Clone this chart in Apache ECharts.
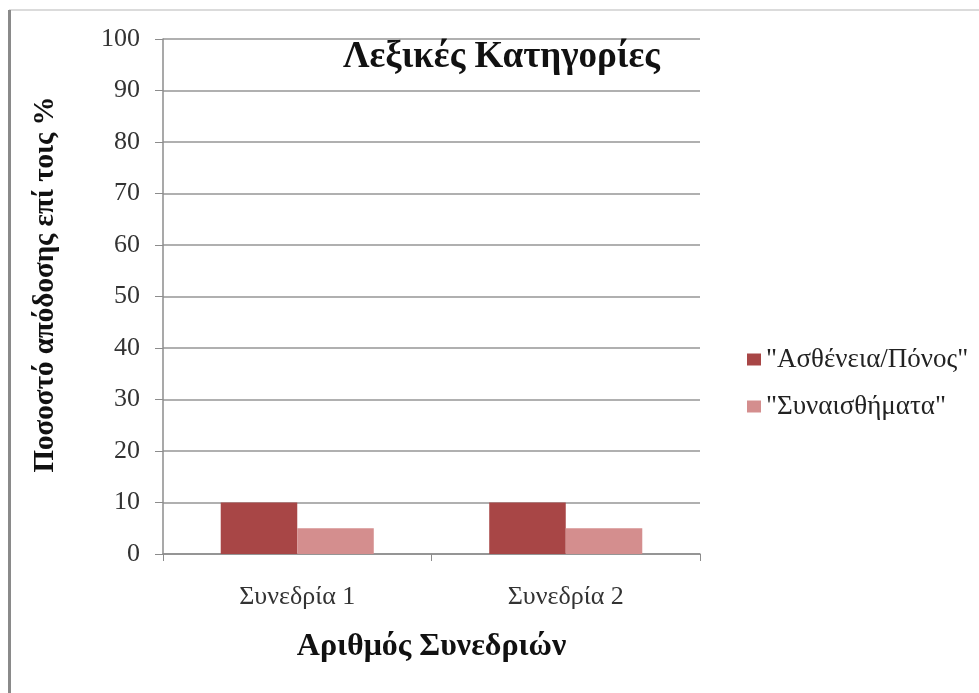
<!DOCTYPE html>
<html><head><meta charset="utf-8">
<script src="https://cdn.jsdelivr.net/npm/echarts@6/dist/echarts.min.js"></script>
<style>html,body{margin:0;padding:0;background:#fff}#c{width:979px;height:693px}</style>
</head><body><div id="c"></div>
<script>
var categories = ['Συνεδρία 1', 'Συνεδρία 2'];
var seriesNames = ['"Ασθένεια/Πόνος"', '"Συναισθήματα"'];
var illnessPain = [10, 10];
var emotions = [5, 5];
var yTicks = { min: 0, max: 100, interval: 10 };

var FONT = '"Liberation Serif", "DejaVu Serif", serif';
var chart = echarts.init(document.getElementById('c'));
chart.setOption({
  backgroundColor: '#fff',
  animation: false,
  textStyle: { fontFamily: FONT },
  title: {
    text: 'Λεξικές Κατηγορίες', left: 338, top: 34,
    textStyle: { fontFamily: FONT, fontSize: 37, fontWeight: 'bold', color: '#111' }
  },
  graphic: [
    { type: 'line', shape: { x1: 9, y1: 10, x2: 979, y2: 10 }, style: { stroke: '#cfcfcf', lineWidth: 1.5 } },
    { type: 'line', shape: { x1: 9.5, y1: 10, x2: 9.5, y2: 693 }, style: { stroke: '#8a8a8a', lineWidth: 3 } }
  ],
  legend: {
    orient: 'vertical', left: 742, top: 341,
    itemWidth: 14, itemHeight: 12, itemGap: 20,
    icon: 'rect',
    textStyle: { fontFamily: FONT, fontSize: 27, color: '#222' },
    data: seriesNames
  },
  grid: { left: 163, right: 279, top: 39, bottom: 139, containLabel: false },
  xAxis: {
    type: 'category', data: categories,
    axisLine: { lineStyle: { color: '#8c8c8c', width: 1.5 } },
    axisTick: { show: true, length: 7, lineStyle: { color: '#8c8c8c' } },
    axisLabel: { fontFamily: FONT, fontSize: 26, color: '#333', margin: 30 },
    name: 'Αριθμός Συνεδριών', nameLocation: 'middle', nameGap: 77,
    nameTextStyle: { fontFamily: FONT, fontSize: 32, fontWeight: 'bold', color: '#111' }
  },
  yAxis: {
    type: 'value', min: yTicks.min, max: yTicks.max, interval: yTicks.interval,
    axisLine: { show: true, lineStyle: { color: '#8c8c8c', width: 1.5 } },
    axisTick: { show: true, length: 8, lineStyle: { color: '#8c8c8c' } },
    splitLine: { lineStyle: { color: '#969696', width: 1.5 } },
    axisLabel: { fontFamily: FONT, fontSize: 26, color: '#333', margin: 23 },
    name: 'Ποσοστό απόδοσης επί τοις %', nameLocation: 'middle', nameGap: 103,
    nameTextStyle: { fontFamily: FONT, fontSize: 29, fontWeight: 'bold', color: '#111', padding: [0, 0, 0, 24] }
  },
  series: [
    { name: seriesNames[0], type: 'bar', data: illnessPain, barGap: '0%', barCategoryGap: '43%',
      itemStyle: { color: '#a84646' } },
    { name: seriesNames[1], type: 'bar', data: emotions, barGap: '0%', barCategoryGap: '43%',
      itemStyle: { color: '#d48e8e' } }
  ]
});
</script></body></html>
